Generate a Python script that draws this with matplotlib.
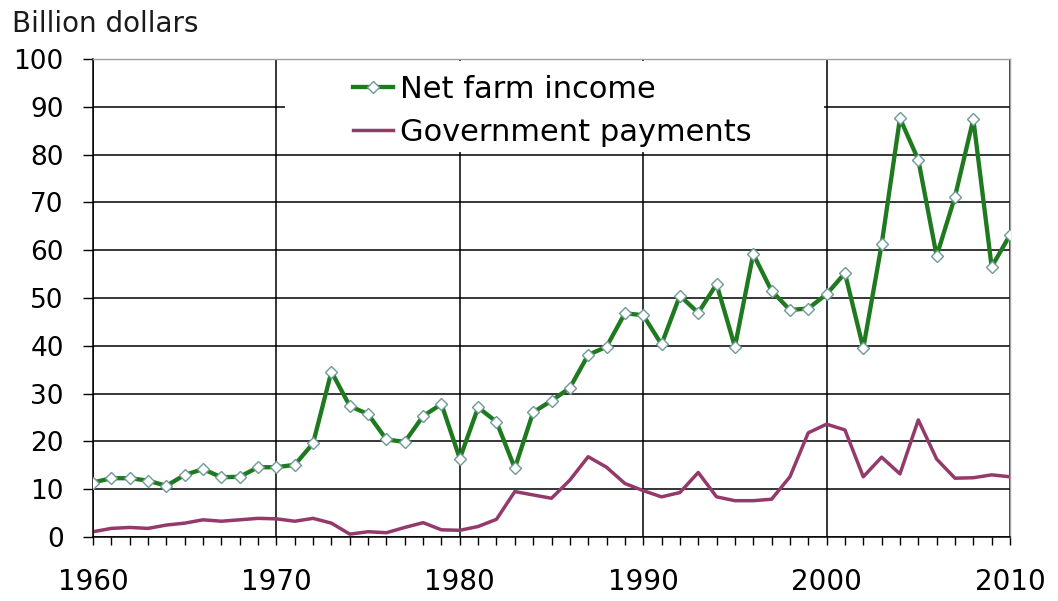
import matplotlib
matplotlib.use("Agg")
import matplotlib.pyplot as plt
from matplotlib.ticker import MultipleLocator
from matplotlib.patches import Rectangle

years = list(range(1960, 2011))
net_farm_income = [11.4, 12.3, 12.3, 11.8, 10.7, 13.0, 14.2, 12.5, 12.6, 14.6,
                   14.6, 15.1, 19.6, 34.6, 27.4, 25.7, 20.4, 19.9, 25.3, 27.8,
                   16.4, 27.1, 24.1, 14.4, 26.1, 28.5, 31.2, 38.1, 39.8, 46.8,
                   46.4, 40.3, 50.5, 46.9, 52.9, 39.8, 59.2, 51.5, 47.5, 47.8,
                   50.8, 55.2, 39.5, 61.2, 87.6, 78.9, 58.8, 71.2, 87.4, 56.5,
                   63.2]
government_payments = [1.1, 1.8, 2.0, 1.8, 2.5, 2.9, 3.6, 3.3, 3.6, 3.9,
                       3.8, 3.3, 3.9, 2.9, 0.6, 1.1, 0.9, 2.0, 3.0, 1.5,
                       1.4, 2.2, 3.7, 9.5, 8.8, 8.1, 11.9, 16.8, 14.6, 11.2,
                       9.7, 8.4, 9.3, 13.5, 8.4, 7.6, 7.6, 7.9, 12.6, 21.8,
                       23.6, 22.4, 12.6, 16.7, 13.2, 24.5, 16.3, 12.3, 12.4, 13.0,
                       12.6]
x_major = [1960, 1970, 1980, 1990, 2000, 2010]
y_ticks = list(range(0, 101, 10))
series_labels = ["Net farm income", "Government payments"]

plt.rcParams['font.family'] = ['DejaVu Sans']

fig = plt.figure(figsize=(10.58, 6.01), dpi=100)
ax = fig.add_axes([93/1058, 1 - 537/601, (1010-93)/1058, (537-59)/601])

ax.set_xlim(1960, 2010)
ax.set_ylim(0, 100)
ax.set_xticks(x_major)
ax.xaxis.set_minor_locator(MultipleLocator(1))
ax.set_yticks(y_ticks)

ax.set_axisbelow(True)
ax.grid(axis='y', color='black', linewidth=1.1, zorder=0.5)
ax.grid(axis='x', which='major', color='black', linewidth=1.1, zorder=0.5)

# white legend background
ax.add_patch(Rectangle((0.209, 0.805), 0.588, 0.19, transform=ax.transAxes,
                       facecolor='white', edgecolor='none', zorder=1))

ln1, = ax.plot(years, net_farm_income, color='#1f7a1f', linewidth=3.1,
               marker='D', markersize=6, markerfacecolor='white',
               markeredgecolor='#6f9a9a', markeredgewidth=1.0, zorder=3,
               label=series_labels[0])
ln2, = ax.plot(years, government_payments, color='#933a6a', linewidth=2.5,
               zorder=2, label=series_labels[1])

for side in ['top', 'right']:
    ax.spines[side].set_color('#a0a0a0')
    ax.spines[side].set_linewidth(1.0)
for side in ['left', 'bottom']:
    ax.spines[side].set_color('black')
    ax.spines[side].set_linewidth(1.1)

ax.tick_params(axis='y', direction='out', length=7, width=1, pad=14,
               labelsize=19, colors='black')
ax.tick_params(axis='x', which='major', direction='out', length=6, width=1,
               pad=16, labelsize=20)
ax.tick_params(axis='x', which='minor', direction='out', length=6, width=1)

fig.text(12/1058, 1 - 32/601, "Billion dollars", fontsize=20, va='baseline',
         ha='left', color='#1a1a1a')

leg = ax.legend(handles=[ln1, ln2], loc='upper left',
                bbox_to_anchor=(353/1058, 1 - 75/601),
                bbox_transform=fig.transFigure, frameon=False,
                fontsize=22, handlelength=1.3, handletextpad=0.25,
                labelspacing=0.45, borderpad=0, borderaxespad=0)
leg.set_zorder(5)

fig.savefig("out.png", dpi=100)
